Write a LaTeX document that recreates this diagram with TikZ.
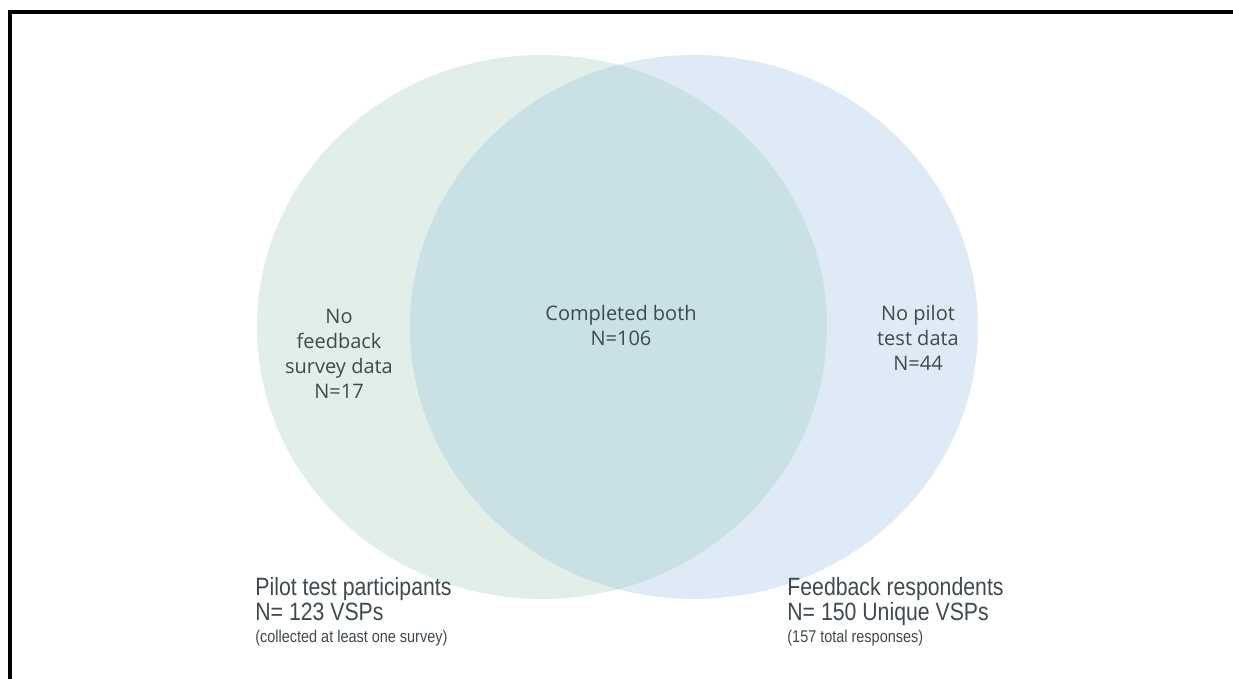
\documentclass[tikz,border=0pt]{standalone}
\usepackage{fontspec}
\setmainfont{Open Sans}
\newfontfamily\narrowfont[FakeStretch=0.85]{Liberation Sans}
\usetikzlibrary{positioning}
\definecolor{pilotgreen}{HTML}{E2EEE8}
\definecolor{feedbackblue}{HTML}{DEEBF6}
\definecolor{bothteal}{HTML}{C9E0E4}
\definecolor{labelgrey}{HTML}{3E4A4E}

\begin{document}
\begin{tikzpicture}[x=0.5pt,y=-0.5pt,
  setlabel/.style={align=center,text=labelgrey,inner sep=0pt,anchor=north,
    font=\fontsize{10}{12.4}\selectfont},
  countlabel/.style={align=left,text=labelgrey,inner sep=0pt,anchor=north west,
    text depth=2.5pt,font=\narrowfont\fontsize{12.5}{10.8}\selectfont},
  smallnote/.style={text=labelgrey,inner sep=0pt,font=\narrowfont\fontsize{8.5}{9}\selectfont}]
\useasboundingbox (0,0) rectangle (1233,679);
% frame
\draw[line width=2pt] (10,679) -- (10,12) -- (1233,12);
% the two sets
\coordinate (pilot) at (542,327);
\coordinate (feedback) at (694,327);
\fill[pilotgreen] (pilot) ellipse [x radius=285, y radius=272];
\fill[feedbackblue] (feedback) ellipse [x radius=284, y radius=272];
\begin{scope}
  \clip (pilot) ellipse [x radius=285, y radius=272];
  \fill[bothteal] (feedback) ellipse [x radius=284, y radius=272];
\end{scope}
% region labels
\node[setlabel] (nofeedback) at (339,309) {No\\feedback\\survey data\\N=17};
\node[setlabel] (both) at (621,305) {Completed both\\N=106};
\node[setlabel] (nopilot) at (918,305) {No pilot\\test data\\N=44};
% set totals
\node[countlabel] (pilotcount) at (255,577) {Pilot test participants\\N= 123 VSPs};
\node[smallnote] (pilotnote) [below=2pt of pilotcount.south west, anchor=north west] {(collected at least one survey)};
\node[countlabel] (feedbackcount) at (787,577) {Feedback respondents\\N= 150 Unique VSPs};
\node[smallnote] (feedbacknote) [below=2pt of feedbackcount.south west, anchor=north west] {(157 total responses)};
\end{tikzpicture}
\end{document}
